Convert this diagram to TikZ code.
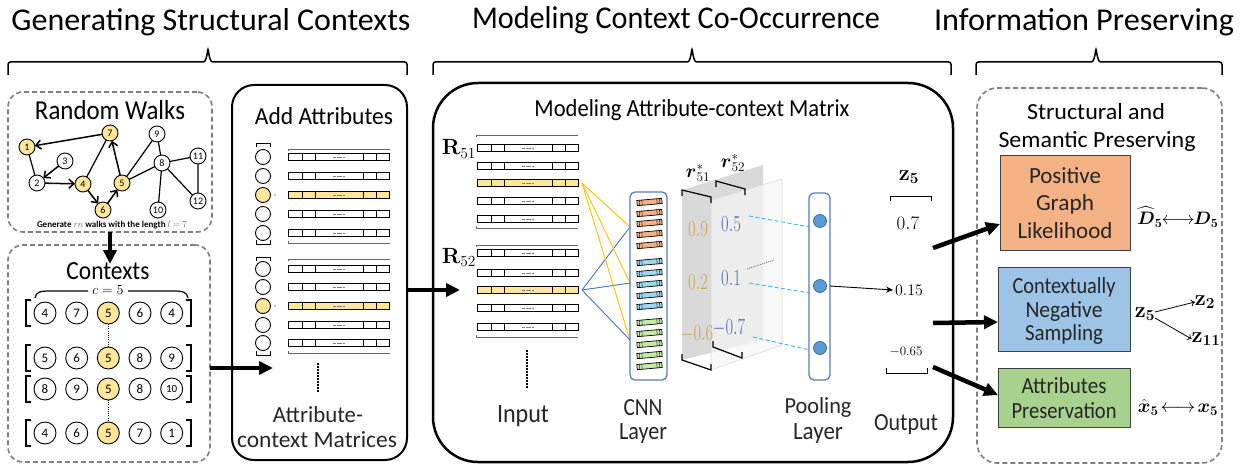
\documentclass[tikz,border=0pt]{standalone}
\usepackage{fix-cm}
\usepackage{graphicx}
\usepackage{amsmath}
\usepackage[no-math]{fontspec}
\setmainfont{Carlito}
\usetikzlibrary{arrows.meta,calc}
\definecolor{yel}{HTML}{FFE699}
\definecolor{dgray}{HTML}{7F7F7F}
\definecolor{orbox}{HTML}{F4B183}
\definecolor{blbox}{HTML}{9DC3E6}
\definecolor{grbox}{HTML}{A9D18E}
\definecolor{cnnor}{HTML}{F4B183}
\definecolor{cnnbl}{HTML}{9DD8F0}
\definecolor{cnngr}{HTML}{C5EBA8}
\definecolor{frame}{HTML}{5B7DB1}
\definecolor{pooldot}{HTML}{5B9BD5}
\definecolor{gold}{HTML}{CFA24E}
\definecolor{numbl}{HTML}{4A6DB0}
\definecolor{ylin}{HTML}{FFC000}
\definecolor{blin}{HTML}{4472C4}
\definecolor{cyantwo}{HTML}{3CB4E8}
\newcommand{\fitt}[3]{\resizebox{#1pt}{#2pt}{#3}}
\newcommand{\numb}[1]{\scalebox{0.72}[1]{$#1$}}
\newcommand{\abar}[3]{%
  \draw[line width=0.8pt,fill=#3] (#1,#2-3.5) rectangle ++(101,7);
  \foreach \dd in {14,27,75,88}{\draw[line width=0.6pt] (#1+\dd,#2-3.5) -- ++(0,7);}
  \draw[black!50,line width=0.5pt,dash pattern=on 0.6pt off 0.6pt] (#1+45,#2) -- ++(11,0);}
\newcommand{\cbar}[2]{%
  \begin{scope}[rotate around={5:(649.5,#1)}]
  \draw[line width=0.7pt,fill=#2] (637,#1-2.6) rectangle (662,#1+2.6);
  \foreach \dd in {2.5,5,20,22.5}{\draw[line width=0.4pt] (637+\dd,#1-2.6) -- ++(0,5.2);}
  \end{scope}}
\newcommand{\tbrace}[3]{%
  \draw[line width=1.5pt,rounded corners=2.5pt] (#1,75) -- (#1,62) -- (#2-7,62) .. controls (#2-2,62) and (#2-1,55) .. (#2,48) .. controls (#2+1,55) and (#2+2,62) .. (#2+7,62) -- (#3,62) -- (#3,75);}
\begin{document}
\begin{tikzpicture}[x=1pt,y=-1pt,
  every node/.style={inner sep=0pt, outer sep=0pt},
  dbox/.style={draw=dgray, dash pattern=on 5pt off 3pt, line width=1.6pt, rounded corners=15pt},
  gnode/.style={circle, draw, line width=0.9pt, minimum size=16pt, fill=white, font=\fontsize{10}{10}\selectfont},
  ynode/.style={gnode, fill=yel},
  cnode/.style={circle, draw, line width=0.9pt, minimum size=22pt, font=\fontsize{13}{13}\selectfont},
  acirc/.style={circle, draw, line width=0.9pt, minimum size=15pt},
  bigarrow/.style={line width=4.5pt, -{Triangle[length=14pt,width=13pt]}},
  warrow/.style={line width=1.5pt, -{Straight Barb[length=5pt,width=9pt]}},
  wline/.style={line width=1.2pt},
  frm/.style={draw=frame, line width=1.3pt, rounded corners=5pt, fill=white},
  lab/.style={anchor=base, text=black!85},
  rbox/.style={draw=black!75, line width=1pt},
  pdot/.style={circle, fill=pooldot, draw=pooldot!70!black, line width=0.8pt, minimum size=13pt},
]
\useasboundingbox (0,0) rectangle (1245,468);

% ---------- titles and braces
\node[anchor=base] (t1) at (211,31) {\fitt{399}{22}{Generating Structural Contexts}};
\node[anchor=base] (t2) at (676,29) {\fitt{408}{22}{Modeling Context Co-Occurrence}};
\node[anchor=base] (t3) at (1084,31) {\fitt{300}{22}{Information Preserving}};
\tbrace{8}{208}{407}
\tbrace{433}{692}{951}
\tbrace{976}{1096}{1222}

% ---------- Random walks
\node[dbox, minimum width=204pt, minimum height=140pt] (rw) at (110,162) {};
\node[lab,text=black] (rwt) at (110,120) {\fitt{150}{19}{Random Walks}};
\node[ynode] (g1) at (27,147) {1};
\node[ynode] (g7) at (110,133) {7};
\node[gnode] (g9) at (157,134) {9};
\node[gnode] (g3) at (65,161) {3};
\node[gnode] (g8) at (162,163) {8};
\node[gnode] (g11) at (198,156) {11};
\node[gnode] (g2) at (37,183) {2};
\node[ynode] (g4) at (83,184) {4};
\node[ynode] (g5) at (122,183) {5};
\node[ynode] (g6) at (103,210) {6};
\node[gnode] (g10) at (158,210) {10};
\node[gnode] (g12) at (198,201) {12};
\draw[wline] (g1)--(g2) (g4)--(g7) (g5)--(g9) (g5)--(g8) (g9)--(g8) (g8)--(g11) (g8)--(g10) (g8)--(g12) (g11)--(g12);
\draw[warrow] (g7) -- (g1);
\draw[warrow] (g3) -- (g2);
\draw[warrow] (g2) -- (g4);
\draw[warrow] (g4) -- (g6);
\draw[warrow] (g6) -- (g5);
\draw[warrow] (g5) -- (g7);
\node[anchor=base] (cap) at (112,227) {\resizebox{150pt}{!}{\bfseries Generate {\color{black!60}$rn$} walks with the length {\color{black!60}$l=7$}}};

% ---------- Contexts
\node[dbox, minimum width=202pt, minimum height=217pt] (ctx) at (109,353.5) {};
\coordinate (ctxin) at (110,264);
\draw[bigarrow] (rw.south) -- (ctxin);
\node[lab,text=black] (ctxt) at (108,279) {\fitt{83}{17}{Contexts}};
\draw[line width=1.2pt] (35,298) .. controls (36,292) and (40,291) .. (50,291) -- (88,291);
\draw[line width=1.2pt] (128,291) -- (173,291) .. controls (183,291) and (187,292) .. (188,298);
\node (cfive) at (108,290) {\fontsize{14}{14}\selectfont$c=5$};
\foreach \r/\y/\a/\b/\d/\e in {1/313/4/7/6/4, 2/358/5/6/8/9, 3/389/8/9/8/10, 4/433/4/6/7/1}{
  \node[cnode] (c\r a) at (45,\y) {\a};
  \node[cnode] (c\r b) at (76.7,\y) {\b};
  \node[cnode, fill=yel] (c\r c) at (108.3,\y) {5};
  \node[cnode] (c\r d) at (140,\y) {\d};
  \node[cnode] (c\r e) at (171.7,\y) {\ifnum\e=10 \fontsize{11}{11}\selectfont\fi\e};
  \draw[line width=1.6pt] (31,\y-13) -- (26,\y-13) -- (26,\y+13) -- (31,\y+13);
  \draw[line width=1.6pt] (186,\y-13) -- (191,\y-13) -- (191,\y+13) -- (186,\y+13);
}
\draw[line width=1.2pt, dash pattern=on 1pt off 1.2pt] (c1c) -- (c2c);
\draw[line width=1.2pt, dash pattern=on 1pt off 1.2pt] (c3c) -- (c4c);

% ---------- Add attributes
\node[draw, line width=2pt, rounded corners=22pt, minimum width=175pt, minimum height=375pt] (add) at (319.5,272.5) {};
\coordinate (a1s) at (210,368);
\coordinate (a1e) at (273,368);
\draw[bigarrow] (a1s) -- (a1e);
\node[lab,text=black] (addt) at (324,125) {\fitt{138}{17}{Add Attributes}};
\foreach \y/\c [count=\i] in {157/white,176/white,195/yel,214/white,233/white}{
  \node[acirc, fill=\c] (aa\i) at (263,\y) {};
  \abar{288}{\y}{\c}
}
\foreach \y/\c [count=\i] in {269/white,287/white,306/yel,325/white,343/white}{
  \node[acirc, fill=\c] (ab\i) at (263,\y) {};
  \abar{288}{\y}{\c}
}
\fill (275,195) circle (0.7pt) (275,306) circle (0.7pt);
\foreach \t/\b in {143/244, 257/355}{
  \draw[line width=0.8pt] (256,\t+4) -- (256,\t) -- (270,\t) -- (270,\t+4);
  \draw[line width=0.8pt] (256,\b-4) -- (256,\b) -- (270,\b) -- (270,\b-4);
}
\foreach \yy in {149,259}{\draw[black!60,line width=0.6pt] (288,\yy+2) -- (288,\yy) -- (390,\yy);}
\foreach \yy in {243,353}{\draw[black!60,line width=0.6pt] (288,\yy-2) -- (288,\yy) -- (390,\yy);}
\draw[line width=1.8pt, dash pattern=on 1.5pt off 1.5pt] (318,363) -- (318,392);
\node[lab] (am1) at (318,422) {\fitt{90}{16}{Attribute-}};
\node[lab] (am2) at (317,447) {\fitt{160}{16}{context Matrices}};

% ---------- Middle box
\node[draw, line width=2.5pt, rounded corners=45pt, minimum width=520pt, minimum height=379pt] (mid) at (693,272.5) {};
\coordinate (a2s) at (407,290);
\coordinate (a2e) at (460,290);
\draw[bigarrow] (a2s) -- (a2e);
\node[lab,text=black] (midt) at (692,117) {\fitt{315}{17}{Modeling Attribute-context Matrix}};
\foreach \y/\c in {148/white,166/white,183/yel,201/white,219/white}{\abar{477}{\y}{\c}}
\foreach \y/\c in {253/white,273/white,290/yel,308/white,327/white}{\abar{477}{\y}{\c}}
\foreach \yy in {135,245}{\draw[black!60,line width=0.6pt] (476,\yy+2) -- (476,\yy) -- (578,\yy);}
\foreach \yy in {228,337}{\draw[black!60,line width=0.6pt] (476,\yy-2) -- (476,\yy) -- (578,\yy);}
\node[anchor=base east] (r51) at (476,155) {\fontsize{22}{22}\selectfont$\mathbf{R}_{51}$};
\node[anchor=base east] (r52) at (476,263) {\fontsize{22}{22}\selectfont$\mathbf{R}_{52}$};
\draw[line width=1.8pt, dash pattern=on 1.5pt off 1.5pt] (527,350) -- (527,388);
\node[lab] (inp) at (523,422) {\fitt{52}{17}{Input}};

% fan lines
\coordinate (fy) at (582,183);
\coordinate (fb) at (582,290);
\coordinate (k1) at (630,227);
\coordinate (k2) at (630,283);
\coordinate (k3) at (630,340);
\foreach \k in {k1,k2,k3}{\draw[ylin, line width=0.9pt] (fy) -- (\k); \draw[blin, line width=0.9pt] (fb) -- (\k);}

% CNN layer
\node[frm, minimum width=37pt, minimum height=188pt] (cnn) at (648.5,286) {};
\foreach \y in {202,213,223,234,245}{\cbar{\y}{cnnor}}
\foreach \y in {262,273,284,295,306}{\cbar{\y}{cnnbl}}
\foreach \y in {322,333,344,355,366}{\cbar{\y}{cnngr}}
\node[lab] (cnn1) at (643,415) {\fitt{39}{16}{CNN}};
\node[lab] (cnn2) at (643,439) {\fitt{48}{16}{Layer}};

% sheets
\fill[gray!30] (682,190) -- (763,165) -- (763,340) -- (682,360) -- cycle;
\fill[gray!8, opacity=0.75] (711,200) -- (782,179) -- (782,345) -- (711,370) -- cycle;
\draw[gray!30, line width=0.6pt] (711,200) -- (782,179) -- (782,345) -- (711,370) -- cycle;
\draw[line width=1.2pt] (682,196) -- (682,190) -- (711,197) -- (711,203);
\draw[line width=1.2pt] (716,187) -- (716,181) -- (745,189) -- (745,195);
\draw[line width=1.2pt] (682,354) -- (682,360) -- (711,370) -- (711,364);
\draw[line width=1.2pt] (713,341) -- (713,347) -- (742,358) -- (742,352);
\node (r51s) at (698,173) {\fontsize{19}{19}\selectfont$\boldsymbol{r}^{*}_{51}$};
\node (r52s) at (733,163) {\fontsize{19}{19}\selectfont$\boldsymbol{r}^{*}_{52}$};
\node[text=gold] (n09) at (698,229) {\fontsize{23}{23}\selectfont\numb{0.9}};
\node[text=gold] (n02) at (698,282) {\fontsize{23}{23}\selectfont\numb{0.2}};
\node[text=gold] (n06) at (697,334) {\fontsize{23}{23}\selectfont\numb{-0.6}};
\node[text=numbl] (n05) at (731,224) {\fontsize{23}{23}\selectfont\numb{0.5}};
\node[text=numbl] (n01) at (731,278) {\fontsize{23}{23}\selectfont\numb{0.1}};
\node[text=numbl] (n07) at (729,328) {\fontsize{23}{23}\selectfont\numb{-0.7}};
\draw[black!55, line width=0.8pt, dash pattern=on 1pt off 1pt] (747,269) -- (774,260);

% pooling
\node[frm, minimum width=21pt, minimum height=187pt] (pool) at (819.5,286.5) {};
\node[pdot] (p1) at (820,221) {};
\node[pdot] (p2) at (820,286) {};
\node[pdot] (p3) at (820,348) {};
\coordinate (d1s) at (749,216); \coordinate (d1e) at (810,227);
\coordinate (d2s) at (749,283); \coordinate (d2e) at (810,293);
\coordinate (d3s) at (753,337); \coordinate (d3e) at (810,350);
\draw[cyantwo, line width=0.9pt, dash pattern=on 4pt off 2.5pt] (d1s) -- (d1e) (d2s) -- (d2e) (d3s) -- (d3e);
\node[lab] (pl1) at (818,413) {\fitt{67}{16}{Pooling}};
\node[lab] (pl2) at (818,439) {\fitt{50}{16}{Layer}};

% output
\node (z5o) at (909,177) {\fontsize{22}{22}\selectfont$\mathbf{z}_{\mathbf{5}}$};
\draw[line width=1pt] (890,201) -- (890,196) -- (931,196) -- (931,201);
\node (o07) at (908,223) {\fontsize{19}{19}\selectfont$0.7$};
\node (o015) at (909,290) {\fontsize{16}{16}\selectfont$0.15$};
\node (o065) at (906,352) {\fontsize{13}{13}\selectfont$-0.65$};
\draw[line width=1pt] (886,368) -- (886,373) -- (927,373) -- (927,368);
\draw[line width=0.9pt, -{Stealth[length=7pt,width=6pt]}] (p2.east -| pool.east) -- ([xshift=-2pt]o015.west);
\node[lab] (outl) at (906,430) {\fitt{64}{16}{Output}};

% ---------- Right panel
\node[dbox, rounded corners=20pt, minimum width=245pt, minimum height=375pt] (rp) at (1099.5,275.5) {};
\node[lab,text=black] (rpt1) at (1096,120) {\fitt{138}{16}{Structural and}};
\node[lab,text=black] (rpt2) at (1097,147) {\fitt{197}{16}{Semantic Preserving}};
\node[rbox, fill=orbox, minimum width=130pt, minimum height=94pt] (pos) at (1065,203) {};
\node[lab] (pos1) at (1065,183) {\fitt{72}{16}{Positive}};
\node[lab] (pos2) at (1065,211) {\fitt{58}{16}{Graph}};
\node[lab] (pos3) at (1065,238) {\fitt{95}{16}{Likelihood}};
\node[rbox, fill=blbox, minimum width=132pt, minimum height=84pt] (neg) at (1064,309) {};
\node[lab] (neg1) at (1064,293) {\fitt{103}{16}{Contextually}};
\node[lab] (neg2) at (1064,317) {\fitt{77}{16}{Negative}};
\node[lab] (neg3) at (1064,340) {\fitt{78}{16}{Sampling}};
\node[rbox, fill=grbox, minimum width=132pt, minimum height=59pt] (att) at (1064,397.5) {};
\node[lab] (att1) at (1064,393) {\fitt{85}{16}{Attributes}};
\node[lab] (att2) at (1064,418) {\fitt{105}{16}{Preservation}};

\node (dd) at (1178,217) {\fontsize{18}{18}\selectfont$\widehat{\boldsymbol{D}}_{\mathbf{5}}\!\!\longleftrightarrow\!\!\boldsymbol{D}_{\mathbf{5}}$};
\node (zz5) at (1145,314) {\fontsize{22}{22}\selectfont$\mathbf{z}_{\mathbf{5}}$};
\node (zz2) at (1205,302) {\fontsize{22}{22}\selectfont$\mathbf{z}_{\mathbf{2}}$};
\node (zz11) at (1206,339) {\fontsize{22}{22}\selectfont$\mathbf{z}_{\mathbf{11}}$};
\draw[line width=0.8pt, -{To[length=4pt,width=7pt]}] ([yshift=2pt]zz5.east) -- (zz2.west);
\draw[line width=0.8pt, -{To[length=4pt,width=7pt]}] ([yshift=-4pt]zz5.east) -- (zz11.west);
\node (xx) at (1178,407) {\fontsize{19}{19}\selectfont$\hat{\boldsymbol{x}}_{\mathbf{5}}\!\longleftrightarrow\!\boldsymbol{x}_{\mathbf{5}}$};

\coordinate (b1s) at (933,248);
\coordinate (b2s) at (933,323);
\coordinate (b3s) at (933,367);
\draw[bigarrow] (b1s) -- (pos.west |- 0,224);
\draw[bigarrow] (b2s) -- (neg.west |- 0,322);
\draw[bigarrow] (b3s) -- (att.west |- 0,395);
\end{tikzpicture}
\end{document}
